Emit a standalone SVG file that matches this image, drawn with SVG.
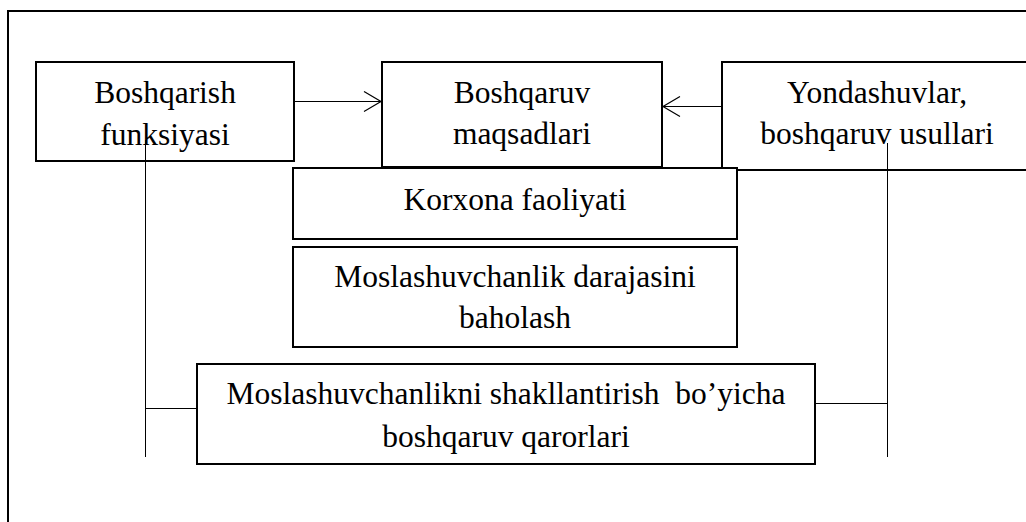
<svg xmlns="http://www.w3.org/2000/svg" width="1026" height="522" viewBox="0 0 1026 522">
<style>
.box{fill:#fff;stroke:#000;stroke-width:2}
.frame{fill:none;stroke:#000;stroke-width:2}
.ln{fill:none;stroke:#000;stroke-width:1}
text{font-family:"Liberation Serif","Times New Roman",serif;font-size:31.5px;fill:#000;text-anchor:middle}
</style>
<defs>
<marker id="arr" markerWidth="20" markerHeight="22" refX="18" refY="11" orient="auto" markerUnits="userSpaceOnUse">
<path d="M1,1 L18,11 L1,21" fill="none" stroke="#000" stroke-width="1.2"/>
</marker>
</defs>
<rect width="1026" height="522" fill="#fff"/>
<path class="frame" d="M8,530 V11 H1030"/>
<g id="n1"><rect class="box" x="36" y="62" width="258" height="99"/><text x="165" y="103">Boshqarish</text><text x="165" y="145">funksiyasi</text></g>
<g id="n2"><rect class="box" x="382" y="62" width="280" height="105"/><text x="522" y="103">Boshqaruv</text><text x="522" y="144">maqsadlari</text></g>
<g id="n3"><rect class="box" x="722" y="62" width="310" height="108"/><text x="877" y="103">Yondashuvlar,</text><text x="877" y="144">boshqaruv usullari</text></g>
<g id="n4"><rect class="box" x="293" y="168" width="444" height="71"/><text x="515" y="210">Korxona faoliyati</text></g>
<g id="n5"><rect class="box" x="293" y="247" width="444" height="100"/><text x="515" y="287">Moslashuvchanlik darajasini</text><text x="515" y="328">baholash</text></g>
<g id="n6"><rect class="box" x="197" y="364" width="618" height="100"/><text x="506" y="404" xml:space="preserve">Moslashuvchanlikni shakllantirish  bo’yicha</text><text x="506" y="447">boshqaruv qarorlari</text></g>
<g id="connectors">
<line class="ln" x1="294" y1="101.5" x2="381" y2="101.5" marker-end="url(#arr)"/>
<line class="ln" x1="722" y1="106.5" x2="663" y2="106.5" marker-end="url(#arr)"/>
<line class="ln" x1="145.5" y1="140" x2="145.5" y2="457"/>
<line class="ln" x1="145" y1="408.5" x2="197" y2="408.5"/>
<line class="ln" x1="887.5" y1="143" x2="887.5" y2="457"/>
<line class="ln" x1="816" y1="403.5" x2="888" y2="403.5"/>
</g>
</svg>
